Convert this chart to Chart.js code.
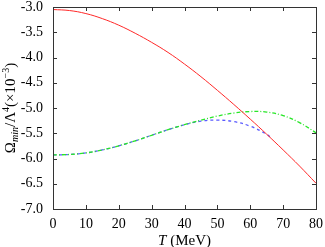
<!DOCTYPE html>
<html>
<head>
<meta charset="utf-8">
<script src="https://cdn.jsdelivr.net/npm/chart.js@4/dist/chart.umd.min.js"></script>
<style>
  html, body { margin: 0; padding: 0; background: #fff; }
  #wrap { width: 325px; height: 247px; }
</style>
</head>
<body>
<div id="wrap"><canvas id="myChart" width="325" height="247"></canvas></div>
<script>
// temperatura (MeV)
var temps = [0, 5, 10, 15, 20, 25, 30, 35, 40, 45, 50, 55, 60, 65, 70, 75, 80];
var redVals = [-3.05, -3.07, -3.13, -3.23, -3.36, -3.52, -3.70, -3.90, -4.13, -4.38, -4.65, -4.93, -5.22, -5.52, -5.83, -6.15, -6.49];
var greenVals = [-5.93, -5.92, -5.89, -5.83, -5.75, -5.65, -5.54, -5.43, -5.33, -5.24, -5.16, -5.10, -5.07, -5.08, -5.15, -5.29, -5.49];
// la curva azul termina antes
var blueTemps = [0, 5, 10, 15, 20, 25, 30, 35, 40, 45, 50, 55, 60, 65, 66];
var blueVals = [-5.93, -5.92, -5.89, -5.83, -5.75, -5.65, -5.54, -5.43, -5.33, -5.26, -5.24, -5.27, -5.36, -5.52, -5.57];
var xTicks = [0, 10, 20, 30, 40, 50, 60, 70, 80];
var yTicks = [-3.0, -3.5, -4.0, -4.5, -5.0, -5.5, -6.0, -6.5, -7.0];

var serif = '"Liberation Serif", "DejaVu Serif", serif';

function toPoints(xs, ys) {
    var pts = [];
    for (var i = 0; i < xs.length; i++) {
        pts.push({x: xs[i], y: ys[i]});
    }
    return pts;
}

// marco, ticks hacia dentro y títulos con sub/superíndices
var framePlugin = {
    id: 'frame',
    afterDraw: function(chart) {
        var ctx = chart.ctx;
        var a = chart.chartArea;
        var xs = chart.scales.x, ys = chart.scales.y;
        ctx.save();
        ctx.strokeStyle = '#333';
        ctx.lineWidth = 1;
        ctx.strokeRect(Math.round(a.left) + 0.5, Math.round(a.top) + 0.5,
                       Math.round(a.right - a.left), Math.round(a.bottom - a.top));
        ctx.beginPath();
        xTicks.forEach(function(t) {
            var px = Math.round(xs.getPixelForValue(t)) + 0.5;
            ctx.moveTo(px, a.bottom); ctx.lineTo(px, a.bottom - 4);
            ctx.moveTo(px, a.top); ctx.lineTo(px, a.top + 4);
        });
        yTicks.forEach(function(t) {
            var py = Math.round(ys.getPixelForValue(t)) + 0.5;
            ctx.moveTo(a.left, py); ctx.lineTo(a.left + 4, py);
            ctx.moveTo(a.right, py); ctx.lineTo(a.right - 4, py);
        });
        ctx.stroke();

        // título eje y
        var parts = [
            {t: 'Ω', f: '15px ' + serif, dy: 0},
            {t: 'min', f: 'italic 10px ' + serif, dy: 3},
            {t: '/Λ', f: '15px ' + serif, dy: 0},
            {t: '4', f: '10px ' + serif, dy: -6},
            {t: '(×10', f: '15px ' + serif, dy: 0},
            {t: '−3', f: '10px ' + serif, dy: -6},
            {t: ')', f: '15px ' + serif, dy: 0}
        ];
        var total = 0;
        parts.forEach(function(p) { ctx.font = p.f; p.w = ctx.measureText(p.t).width; total += p.w; });
        ctx.fillStyle = '#000';
        ctx.textBaseline = 'alphabetic';
        ctx.textAlign = 'left';
        ctx.translate(15, (a.top + a.bottom) / 2);
        ctx.rotate(-Math.PI / 2);
        var x = -total / 2;
        parts.forEach(function(p) {
            ctx.font = p.f;
            ctx.fillText(p.t, x, p.dy);
            x += p.w;
        });
        ctx.restore();

        // título eje x
        ctx.save();
        ctx.fillStyle = '#000';
        ctx.textBaseline = 'alphabetic';
        ctx.font = 'italic 15px ' + serif;
        var w1 = ctx.measureText('T').width;
        ctx.font = '15px ' + serif;
        var w2 = ctx.measureText(' (MeV)').width;
        var cx = (a.left + a.right) / 2 - (w1 + w2) / 2;
        ctx.font = 'italic 15px ' + serif;
        ctx.fillText('T', cx, 245);
        ctx.font = '15px ' + serif;
        ctx.fillText(' (MeV)', cx + w1, 245);
        ctx.restore();
    }
};

var ctx = document.getElementById('myChart').getContext('2d');
var myChart = new Chart(ctx, {
    type: 'line',
    data: {
        datasets: [{
            data: toPoints(temps, redVals),
            borderColor: 'rgba(255, 40, 40, 1)',
            borderWidth: 1,
            pointRadius: 0,
            tension: 0.4
        }, {
            data: toPoints(temps, greenVals),
            borderColor: 'rgba(40, 230, 40, 1)',
            borderWidth: 1.3,
            borderDash: [4, 2, 1, 2],
            pointRadius: 0,
            tension: 0.4
        }, {
            data: toPoints(blueTemps, blueVals),
            borderColor: 'rgba(90, 90, 255, 1)',
            borderWidth: 1.3,
            borderDash: [3, 3],
            pointRadius: 0,
            tension: 0.4
        }]
    },
    options: {
        responsive: false,
        animation: false,
        layout: {
            padding: {left: 0, top: 7, right: 9, bottom: 0}
        },
        plugins: {
            legend: {display: false},
            tooltip: {enabled: false}
        },
        scales: {
            x: {
                type: 'linear',
                min: 0,
                max: 80,
                afterBuildTicks: function(scale) {
                    scale.ticks = xTicks.map(function(v) { return {value: v}; });
                },
                afterFit: function(scale) {
                    scale.height = 38;
                    scale.paddingLeft = 0;
                    scale.paddingRight = 0;
                },
                grid: {display: false, drawTicks: false},
                border: {display: false},
                ticks: {
                    padding: 7,
                    maxRotation: 0,
                    color: '#000',
                    font: {family: serif, size: 14}
                }
            },
            y: {
                type: 'linear',
                min: -7,
                max: -3,
                afterBuildTicks: function(scale) {
                    scale.ticks = yTicks.map(function(v) { return {value: v}; });
                },
                afterFit: function(scale) {
                    scale.width = 53;
                    scale.paddingTop = 0;
                    scale.paddingBottom = 0;
                },
                grid: {display: false, drawTicks: false},
                border: {display: false},
                ticks: {
                    padding: 10,
                    color: '#000',
                    font: {family: serif, size: 14},
                    callback: function(v) { return v.toFixed(1); }
                }
            }
        }
    },
    plugins: [framePlugin]
});
</script>
</body>
</html>
